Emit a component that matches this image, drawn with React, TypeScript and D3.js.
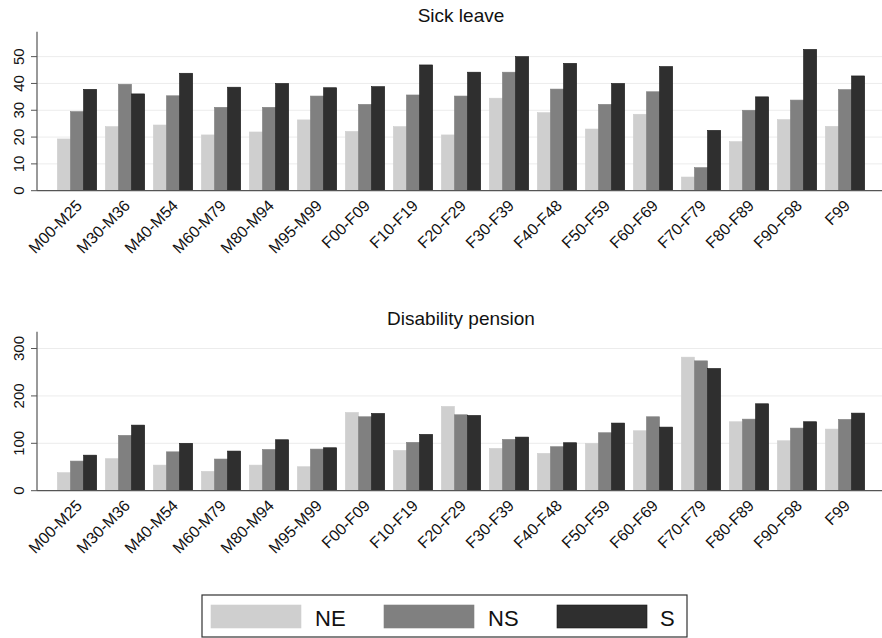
import React from "react";
import * as d3 from "d3";

const categories = ["M00-M25","M30-M36","M40-M54","M60-M79","M80-M94","M95-M99","F00-F09","F10-F19","F20-F29","F30-F39","F40-F48","F50-F59","F60-F69","F70-F79","F80-F89","F90-F98","F99"];
const seriesNames = ["NE", "NS", "S"];
const sickNE = [19.3,23.9,24.5,20.8,21.9,26.4,22.1,23.9,20.8,34.5,29.1,23.0,28.5,5.1,18.3,26.5,24.0];
const sickNS = [29.5,39.7,35.4,31.1,31.1,35.3,32.2,35.7,35.3,44.2,37.9,32.2,36.9,8.6,30.0,33.8,37.7];
const sickS = [37.8,36.1,43.8,38.6,40.0,38.4,38.8,46.9,44.2,50.0,47.5,40.0,46.3,22.5,35.0,52.7,42.8];
const disNE = [38,67.5,54,40.8,54,50.6,165,85,177.8,89.2,78.7,99.8,126.5,281.8,145.5,105.4,130];
const disNS = [62.5,116.7,82,66.8,87,87.8,156,102,160.2,108.2,92.8,122.3,156,274,151,132.1,150.4];
const disS = [75,138.4,100,83.6,107.5,90.6,163,118.8,158.8,113.1,101.2,142.7,134.2,257.9,183.4,145.5,163.7];
const sickTicks = [0,10,20,30,40,50];
const disTicks = [0,100,200,300];
const colors = ["#cfcfcf", "#808080", "#2f2f2f"];

const W = 882, H = 638;
const AXIS_X = 37;
const FONT = "Liberation Sans, Arial, Helvetica, sans-serif";

const x0 = d3.scaleBand<string>().domain(categories).range([53, 869]).paddingInner(0.18).paddingOuter(0.09);
const x1 = d3.scaleBand<string>().domain(seriesNames).range([0, x0.bandwidth()]).padding(0);

function Panel({ title, titleY, series, ticks, y0, y1, ymax }: any) {
  const y = d3.scaleLinear().domain([0, ymax]).range([y0, y1]);
  return (
    <g>
      <text x={461} y={titleY} textAnchor="middle" fontSize={19} fontFamily={FONT} fill="#111">{title}</text>
      {ticks.map((t: number) => (
        <g key={t}>
          {t > 0 && <line x1={AXIS_X} x2={W} y1={y(t)} y2={y(t)} stroke="#ececec" strokeWidth={1} />}
          <line x1={AXIS_X - 6} x2={AXIS_X} y1={y(t)} y2={y(t)} stroke="#555" strokeWidth={1} />
          <text transform={`translate(${AXIS_X - 13},${y(t)}) rotate(-90)`} textAnchor="middle" fontSize={15} fontFamily={FONT} fill="#111">{t}</text>
        </g>
      ))}
      {categories.map((c, i) => (
        <g key={c} transform={`translate(${x0(c)},0)`}>
          {series.map((s: number[], k: number) => (
            <rect key={k} x={x1(seriesNames[k])} y={y(s[i])} width={x1.bandwidth()} height={y(0) - y(s[i])}
              fill={colors[k]} stroke={k === 2 ? "#1a1a1a" : colors[k]} strokeWidth={0.6} />
          ))}
        </g>
      ))}
      <line x1={AXIS_X} x2={AXIS_X} y1={y1} y2={y0} stroke="#555" strokeWidth={1.2} />
      <line x1={AXIS_X} x2={W} y1={y0} y2={y0} stroke="#555" strokeWidth={1.2} />
      {categories.map((c) => {
        const cx = (x0(c) as number) + x0.bandwidth() / 2;
        return (
          <text key={c} transform={`translate(${cx + 6},${y0 + 16}) rotate(-45)`} textAnchor="end" fontSize={16} fontFamily={FONT} fill="#111">{c}</text>
        );
      })}
    </g>
  );
}

export default function App() {
  const legendItems = [
    { name: "NE", sx: 211, tx: 315 },
    { name: "NS", sx: 384, tx: 488 },
    { name: "S", sx: 557, tx: 660 },
  ];
  return (
    <svg width={W} height={H} style={{ position: "absolute", left: 0, top: 0, background: "#fff" }}>
      <rect x={0} y={0} width={W} height={H} fill="#fff" />
      <Panel title="Sick leave" titleY={22} series={[sickNE, sickNS, sickS]} ticks={sickTicks} y0={190.7} y1={31.7} ymax={59.3} />
      <Panel title="Disability pension" titleY={325} series={[disNE, disNS, disS]} ticks={disTicks} y0={490.7} y1={331.7} ymax={335.5} />
      <rect x={202} y={595} width={485} height={42} fill="#fff" stroke="#333" strokeWidth={1.2} />
      {legendItems.map((it, k) => (
        <g key={it.name}>
          <rect x={it.sx} y={605} width={90} height={23} fill={colors[k]} stroke={k === 2 ? "#1a1a1a" : colors[k]} strokeWidth={0.6} />
          <text x={it.tx} y={626} fontSize={22} fontFamily={FONT} fill="#111">{it.name}</text>
        </g>
      ))}
    </svg>
  );
}
